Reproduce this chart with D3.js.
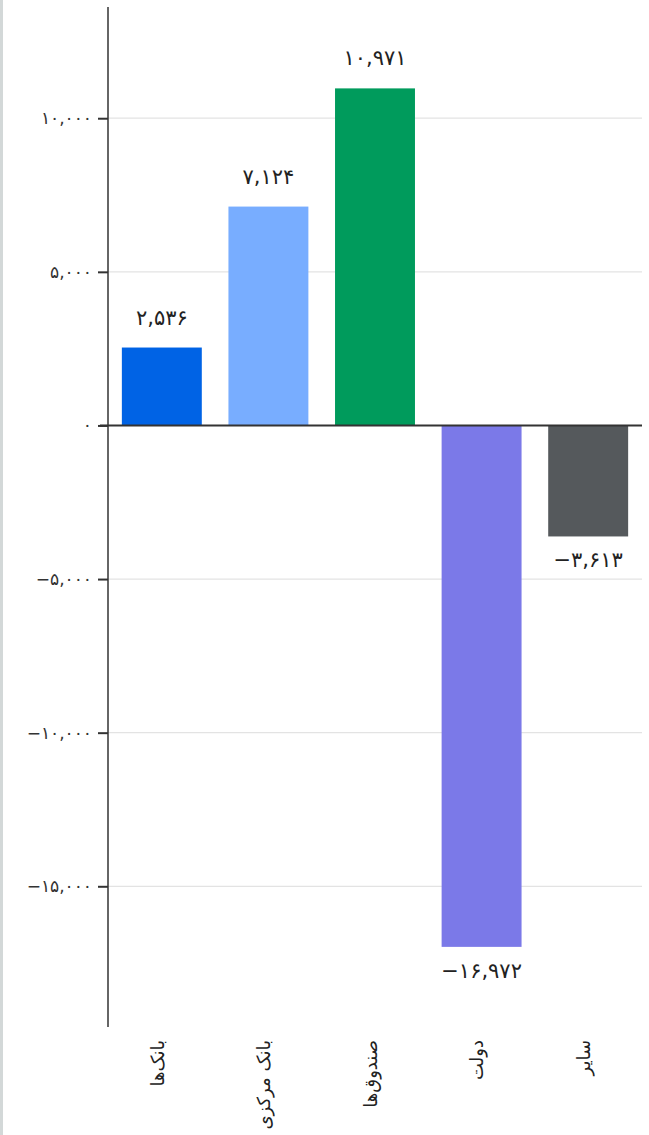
<!DOCTYPE html>
<html>
<head>
<meta charset="utf-8">
<script src="https://cdn.jsdelivr.net/npm/d3@7"></script>
<style>
  html, body { margin: 0; padding: 0; background: #fff; }
  body { border-left: 3px solid #d3d8d8; width: 646px; height: 1135px; box-sizing: content-box; }
  text { font-family: "DejaVu Sans", "Noto Sans", sans-serif; }
</style>
</head>
<body>
<div class="chart"></div>
<script>
// data
const categories = ["بانک‌ها", "بانک مرکزی", "صندوق‌ها", "دولت", "سایر"];
const values = [2536, 7124, 10971, -16972, -3613];
const barColors = ["#0063E5", "#78ADFF", "#009B5C", "#7B79E8", "#55595C"];
const yTicks = [10000, 5000, 0, -5000, -10000, -15000];
const yTickLabels = ["۱۰,۰۰۰", "۵,۰۰۰", "۰", "−۵,۰۰۰", "−۱۰,۰۰۰", "−۱۵,۰٠٠"];

const toFa = s => s.replace(/\d/g, d => "۰۱۲۳۴۵۶۷۸۹"[+d]);
const fmt = d3.format(",");

let svgWidth = 646;
let svgHeight = 1135;

const margin = {top: 7, right: 7, bottom: 108, left: 105};
let chartWidth = svgWidth - margin.left - margin.right;
let chartHeight = 1027 - margin.top;

let svg = d3.select(".chart")
  .append("svg")
  .attr("width", svgWidth)
  .attr("height", svgHeight)
  .append("g")
  .attr("transform", `translate(${margin.left},${margin.top})`);

let x = d3.scaleBand()
  .domain(categories)
  .range([0, chartWidth])
  .paddingInner(0.25)
  .paddingOuter(0.13);

let y = d3.scaleLinear()
  .domain([-19580, 13620])
  .range([chartHeight, 0]);

// grid lines
svg.append("g")
  .selectAll("line")
  .data(yTicks.filter(d => d !== 0))
  .enter().append("line")
  .attr("x1", 0)
  .attr("x2", chartWidth)
  .attr("y1", d => y(d))
  .attr("y2", d => y(d))
  .attr("stroke", "#e3e3e3")
  .attr("stroke-width", 1.3);

// bars
svg.selectAll("rect.bar")
  .data(values)
  .enter().append("rect")
  .attr("class", "bar")
  .attr("x", (d, i) => x(categories[i]))
  .attr("width", x.bandwidth())
  .attr("y", d => y(Math.max(0, d)))
  .attr("height", d => Math.abs(y(d) - y(0)))
  .attr("fill", (d, i) => barColors[i]);

// value labels
svg.selectAll("text.val")
  .data(values)
  .enter().append("text")
  .attr("class", "val")
  .attr("x", (d, i) => x(categories[i]) + x.bandwidth() / 2)
  .attr("y", d => d >= 0 ? y(d) - 23 : y(d) + 31)
  .attr("text-anchor", "middle")
  .attr("font-size", 21)
  .attr("font-weight", 500)
  .attr("fill", "#222")
  .text(d => toFa(fmt(d)));

// zero line
svg.append("line")
  .attr("x1", -8)
  .attr("x2", chartWidth)
  .attr("y1", y(0))
  .attr("y2", y(0))
  .attr("stroke", "#333")
  .attr("stroke-width", 2);

// y axis
let leftAxis = d3.axisLeft(y)
  .tickValues(yTicks)
  .tickSize(10)
  .tickPadding(6)
  .tickFormat((d, i) => yTickLabels[i]);

let yAxis = svg.append("g").call(leftAxis);
yAxis.select(".domain").attr("stroke", "#333").attr("stroke-width", 1.5).attr("d", `M0,0V${chartHeight}`);
yAxis.selectAll(".tick line").attr("stroke", "#333").attr("stroke-width", 2);
yAxis.selectAll(".tick text")
  .attr("font-size", 17)
  .attr("fill", "#333")
  .style("font-family", "'DejaVu Sans', sans-serif");

// x axis labels
let bottomAxis = d3.axisBottom(x).tickSize(0).tickPadding(0);
let xAxis = svg.append("g")
  .attr("transform", `translate(0,${chartHeight})`)
  .call(bottomAxis);
xAxis.select(".domain").remove();
xAxis.selectAll(".tick text")
  .attr("transform", "rotate(-90)")
  .attr("x", -13)
  .attr("y", 0)
  .attr("dy", "0.1em")
  .attr("text-anchor", "end")
  .attr("font-size", 18)
  .attr("fill", "#222")
  .style("font-family", "'DejaVu Sans', sans-serif");
</script>
</body>
</html>
